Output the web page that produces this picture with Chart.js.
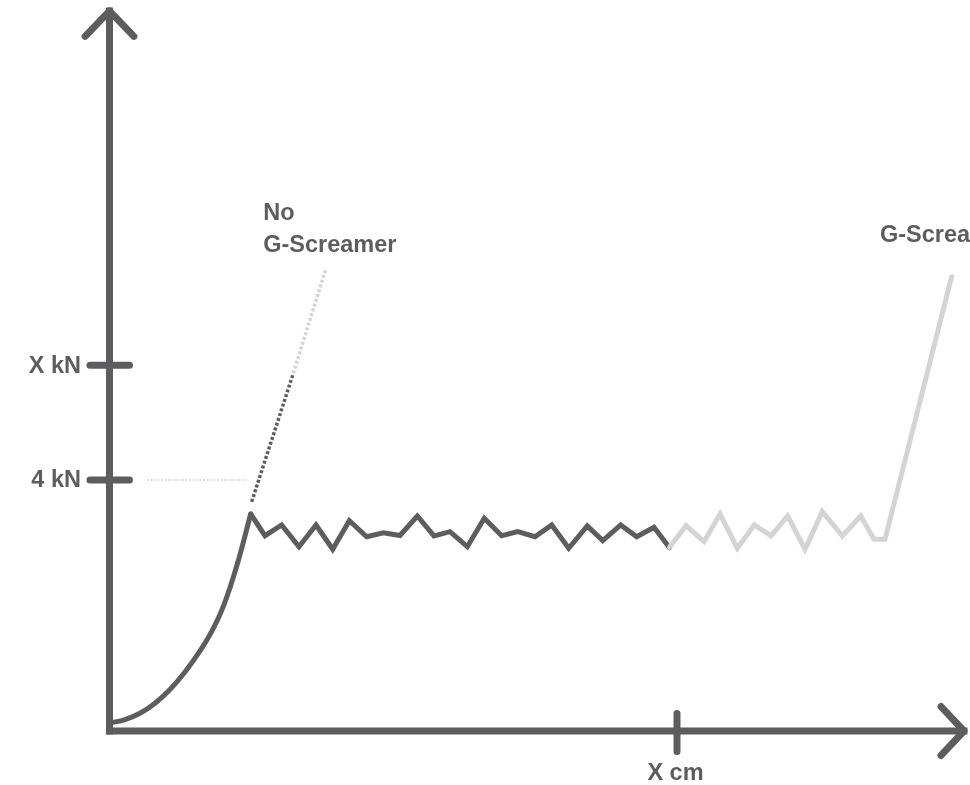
<!DOCTYPE html>
<html>
<head>
<meta charset="utf-8">
<script src="https://cdn.jsdelivr.net/npm/chart.js@4"></script>
<style>
  html, body { margin: 0; padding: 0; background: #ffffff; }
  #wrap { width: 970px; height: 785px; position: relative; }
</style>
</head>
<body>
<div id="wrap"><canvas id="c"></canvas></div>
<script>
// ---- Data (x: % of "X cm", y: kN) ----
const curveX = [0.09, 2.73, 5.37, 8.02, 10.66, 13.30, 15.95, 18.06, 20.18, 22.47, 24.88];
const curveY = [0.127, 0.182, 0.282, 0.441, 0.661, 0.940, 1.275, 1.594, 2.014, 2.645, 3.458];

const zigX = [24.88, 27.40, 30.34, 33.39, 36.39, 39.33, 42.26, 45.32, 48.25, 51.19, 54.24, 57.18, 60.00,
              63.05, 66.04, 69.11, 71.93, 74.98, 77.92, 80.92, 84.19, 86.91, 90.08, 92.90, 95.95, 98.68];
const zigY = [3.458, 3.112, 3.283, 2.937, 3.283, 2.896, 3.351, 3.096, 3.160, 3.116, 3.426, 3.108, 3.176,
              2.937, 3.390, 3.112, 3.176, 3.096, 3.283, 2.912, 3.267, 3.033, 3.283, 3.096, 3.246, 2.920];

const gsX = [98.68, 101.59, 104.76, 107.58, 110.63, 113.62, 116.56, 119.51, 122.56, 125.60, 129.13, 132.37, 134.71, 136.65, 148.40];
const gsY = [2.927, 3.272, 3.017, 3.458, 2.912, 3.283, 3.108, 3.426, 2.896, 3.495, 3.108, 3.426, 3.055, 3.055, 7.240];

const noGsDarkX = [25.06, 32.39];
const noGsDarkY = [3.654, 5.700];
const noGsLightX = [32.39, 38.15];
const noGsLightY = [5.700, 7.374];

const refLineX = [6.61, 24.05];
const refLineY = [4, 4];

const yTicks = [4, 5.83];
const yTickLabels = ['4 kN', 'X kN'];
const xTicks = [100];
const xTickLabels = ['X cm'];

const seriesLabels = ['No', 'G-Screamer'];
const seriesLabel2 = 'G-Screamer';

const axisTopY = 11.474;
const axisRightX = 150.57;

const DARK = '#5d5d5f';
const LIGHT = '#d4d4d6';

const pts = (xs, ys) => xs.map((x, i) => ({ x, y: ys[i] }));

const datasets = [];
function line(data, color, width, extra) {
  datasets.push(Object.assign({
    data, borderColor: color, backgroundColor: color, borderWidth: width,
    showLine: true, pointRadius: 0, pointHoverRadius: 0, tension: 0, fill: false,
    borderCapStyle: 'round', borderJoinStyle: 'miter'
  }, extra || {}));
}

// axes
line([{ x: 0, y: 0 }, { x: 0, y: axisTopY }], DARK, 7, { borderCapStyle: 'square' });
line([{ x: 0, y: 0 }, { x: axisRightX, y: 0 }], DARK, 7, { borderCapStyle: 'square' });
// arrow heads
line([{ x: -4.3, y: 11.07 }, { x: 0, y: axisTopY }, { x: 4.3, y: 11.07 }], DARK, 7, { borderJoinStyle: 'round' });
line([{ x: 146.52, y: 0.39 }, { x: axisRightX, y: 0 }, { x: 146.52, y: -0.39 }], DARK, 7, { borderJoinStyle: 'round' });
// ticks
yTicks.forEach(v => line([{ x: -3.44, y: v }, { x: 3.52, y: v }], DARK, 7));
xTicks.forEach(v => line([{ x: v, y: 0.279 }, { x: v, y: -0.327 }], DARK, 7));

// reference dotted line at 4 kN
line(pts(refLineX, refLineY), LIGHT, 1.5, { borderDash: [2, 1.5], borderCapStyle: 'butt' });
// dotted continuation (no G-Screamer)
line(pts(noGsLightX, noGsLightY), LIGHT, 3.5, { borderDash: [3, 2], borderCapStyle: 'butt' });
line(pts(noGsDarkX, noGsDarkY), DARK, 3.5, { borderDash: [3, 2], borderCapStyle: 'butt' });
// G-Screamer continuation
line(pts(gsX, gsY), LIGHT, 5);
// main force curve
line(pts(zigX, zigY), DARK, 5);
line(pts(curveX, curveY), DARK, 5, { tension: 0.4 });

const labelsPlugin = {
  id: 'labels',
  afterDatasetsDraw(chart) {
    const { ctx, scales: { x, y } } = chart;
    ctx.save();
    ctx.fillStyle = DARK;
    ctx.font = 'bold 23.5px "Liberation Sans", Arial, sans-serif';
    ctx.textBaseline = 'alphabetic';
    // y tick labels
    ctx.textAlign = 'right';
    yTicks.forEach((v, i) => {
      ctx.fillText(yTickLabels[i], x.getPixelForValue(-3.44) - 9, y.getPixelForValue(v) + 7.5);
    });
    // x tick labels
    ctx.textAlign = 'center';
    xTicks.forEach((v, i) => {
      ctx.fillText(xTickLabels[i], x.getPixelForValue(v) - 1.5, y.getPixelForValue(0) + 49);
    });
    // series labels
    ctx.textAlign = 'left';
    const lx = x.getPixelForValue(25.06) + 11.5;
    ctx.fillText(seriesLabels[0], lx, 220);
    ctx.fillText(seriesLabels[1], lx, 252);
    ctx.fillText(seriesLabel2, x.getPixelForValue(136.65) - 5, 242);
    ctx.restore();
  }
};

new Chart(document.getElementById('c'), {
  type: 'scatter',
  data: { datasets },
  options: {
    responsive: true,
    maintainAspectRatio: false,
    animation: false,
    layout: { padding: 0 },
    plugins: { legend: { display: false }, tooltip: { enabled: false } },
    events: [],
    scales: {
      x: { type: 'linear', display: false, min: -19.295, max: 151.63 },
      y: { type: 'linear', display: false, min: -0.8606, max: 11.649 }
    }
  },
  plugins: [labelsPlugin]
});
</script>
</body>
</html>
